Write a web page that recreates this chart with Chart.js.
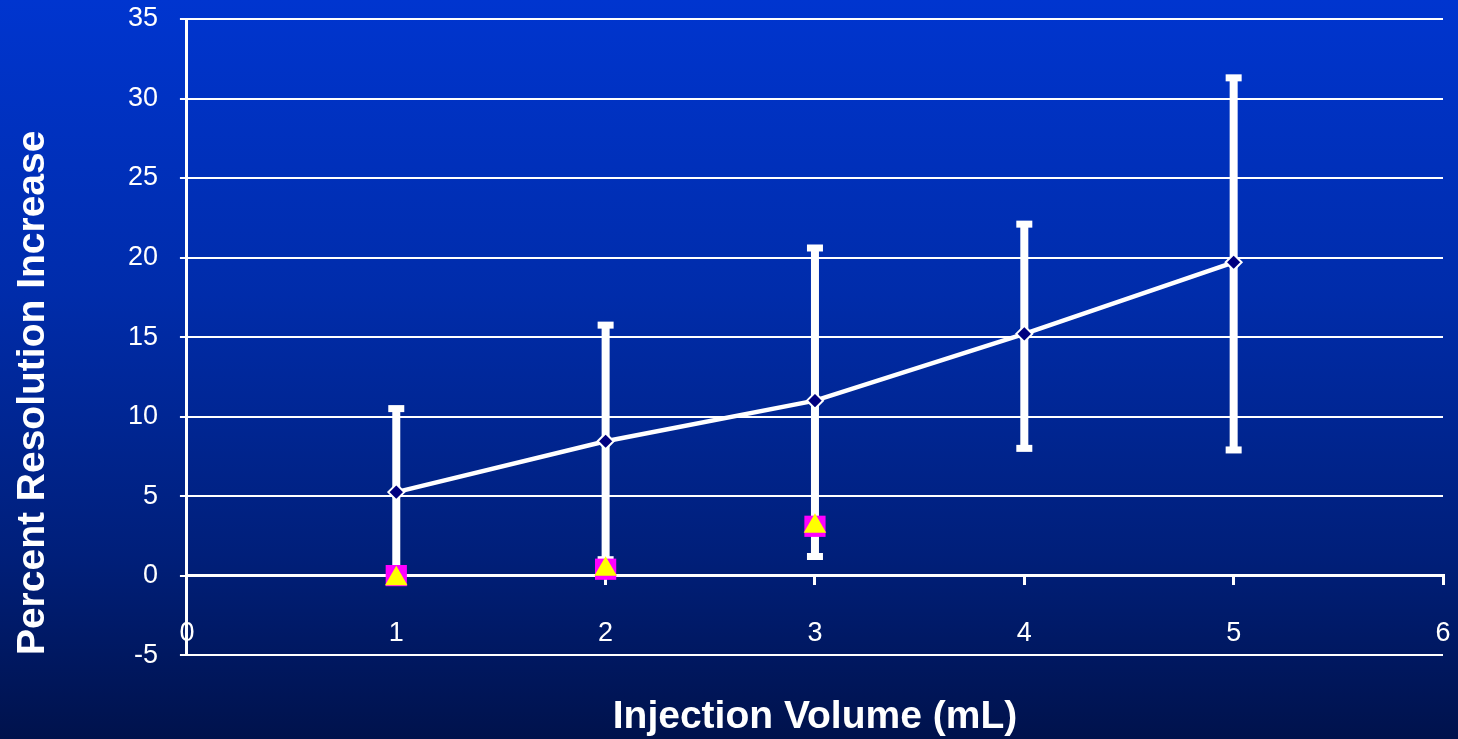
<!DOCTYPE html>
<html>
<head>
<meta charset="utf-8">
<title>Percent Resolution Increase vs Injection Volume</title>
<script src="https://cdn.jsdelivr.net/npm/chart.js@4.4.1/dist/chart.umd.min.js"></script>
<style>
    html, body { margin: 0; padding: 0; background: #001a66; overflow: hidden; }
    canvas { display: block; }
</style>
</head>
<body>
<canvas id="resolutionChart" width="1458" height="739"></canvas>
<script>
// Values
const volumes = [1, 2, 3, 4, 5];
const meanIncrease = [5.25, 8.45, 11.0, 15.2, 19.7];
const errLow = [-0.2, 1.0, 1.2, 8.0, 7.9];
const errHigh = [10.5, 15.75, 20.6, 22.1, 31.3];

const extraVolumes = [1, 2, 3];
const squareValues = [0, 0.4, 3.1];
const triangleValues = [-0.2, 0.4, 3.1];

const xTickValues = [0, 1, 2, 3, 4, 5, 6];
const yTickValues = [-5, 0, 5, 10, 15, 20, 25, 30, 35];

const FONT = "'Liberation Sans', Arial, sans-serif";

function toPoints(xs, ys) {
    return xs.map((x, i) => ({ x: x, y: ys[i] }));
}

// slide background: blue fading to navy
const backgroundPlugin = {
    id: 'slideBackground',
    beforeDraw(chart) {
        const ctx = chart.ctx;
        const grad = ctx.createLinearGradient(0, 0, 0, chart.height);
        grad.addColorStop(0, '#0035cf');
        grad.addColorStop(0.4, '#002caa');
        grad.addColorStop(0.75, '#001f7a');
        grad.addColorStop(1, '#00124c');
        ctx.save();
        ctx.fillStyle = grad;
        ctx.fillRect(0, 0, chart.width, chart.height);
        ctx.restore();
    }
};

// thick white error bars with flat caps
const errorBarPlugin = {
    id: 'errorBars',
    beforeDatasetsDraw(chart) {
        const ctx = chart.ctx;
        const xs = chart.scales.x;
        const ys = chart.scales.y;
        ctx.save();
        ctx.fillStyle = '#ffffff';
        volumes.forEach((v, i) => {
            const px = xs.getPixelForValue(v);
            const top = ys.getPixelForValue(errHigh[i]);
            const bottom = ys.getPixelForValue(errLow[i]);
            ctx.fillRect(px - 4, top, 8, bottom - top);
            ctx.fillRect(px - 8, top - 3.5, 16, 7);
            ctx.fillRect(px - 8, bottom - 3.5, 16, 7);
        });
        ctx.restore();
    }
};

new Chart(document.getElementById('resolutionChart'), {
    type: 'scatter',
    data: {
        datasets: [
            {
                label: 'Mean',
                data: toPoints(volumes, meanIncrease),
                showLine: true,
                borderColor: '#ffffff',
                borderWidth: 4.5,
                pointStyle: 'rectRot',
                pointRadius: 8,
                pointBackgroundColor: '#000080',
                pointBorderColor: '#ffffff',
                pointBorderWidth: 2
            },
            {
                label: 'Triangle',
                data: toPoints(extraVolumes, triangleValues),
                pointStyle: 'triangle',
                pointRadius: 13,
                pointBackgroundColor: '#ffff00',
                pointBorderWidth: 0,
                borderColor: '#ffff00'
            },
            {
                label: 'Square',
                data: toPoints(extraVolumes, squareValues),
                pointStyle: 'rect',
                pointRadius: 15,
                pointBackgroundColor: '#ff00ff',
                pointBorderWidth: 0,
                borderColor: '#ff00ff'
            }
        ]
    },
    options: {
        responsive: false,
        animation: false,
        layout: { padding: { left: 0, top: 19, right: 13, bottom: 0 } },
        plugins: {
            legend: { display: false },
            tooltip: { enabled: false }
        },
        scales: {
            x: {
                type: 'linear',
                position: { y: 0 },
                min: 0,
                max: 6,
                afterBuildTicks: axis => { axis.ticks = xTickValues.map(v => ({ value: v })); },
                grid: {
                    drawOnChartArea: false,
                    drawTicks: true,
                    tickLength: 42,
                    tickBorderDash: [8, 100],
                    color: '#ffffff',
                    lineWidth: 3
                },
                border: { display: true, color: '#ffffff', width: 3 },
                ticks: {
                    color: '#ffffff',
                    font: { family: FONT, size: 27 },
                    padding: 0,
                    maxRotation: 0
                }
            },
            x2: {
                type: 'linear',
                position: 'bottom',
                min: 0,
                max: 6,
                grid: { display: false, drawTicks: false },
                border: { display: false },
                ticks: { display: false },
                title: {
                    display: true,
                    text: 'Injection Volume (mL)',
                    color: '#ffffff',
                    font: { family: FONT, size: 39, weight: 'bold', lineHeight: 1.1 },
                    padding: { top: 41, bottom: 0 }
                }
            },
            y: {
                type: 'linear',
                position: 'left',
                min: -5,
                max: 35,
                afterBuildTicks: axis => { axis.ticks = yTickValues.map(v => ({ value: v })); },
                grid: {
                    color: '#ffffff',
                    lineWidth: 2,
                    drawTicks: true,
                    tickLength: 29,
                    tickBorderDash: [0, 22, 10, 100]
                },
                border: { display: true, color: '#ffffff', width: 3 },
                ticks: {
                    color: '#ffffff',
                    font: { family: FONT, size: 27 },
                    padding: 0
                },
                title: {
                    display: true,
                    text: 'Percent Resolution Increase',
                    color: '#ffffff',
                    align: 'start',
                    font: { family: FONT, size: 39, weight: 'bold', lineHeight: 1.1 },
                    padding: { top: 12, bottom: 73 }
                }
            }
        }
    },
    plugins: [backgroundPlugin, errorBarPlugin]
});
</script>
</body>
</html>
